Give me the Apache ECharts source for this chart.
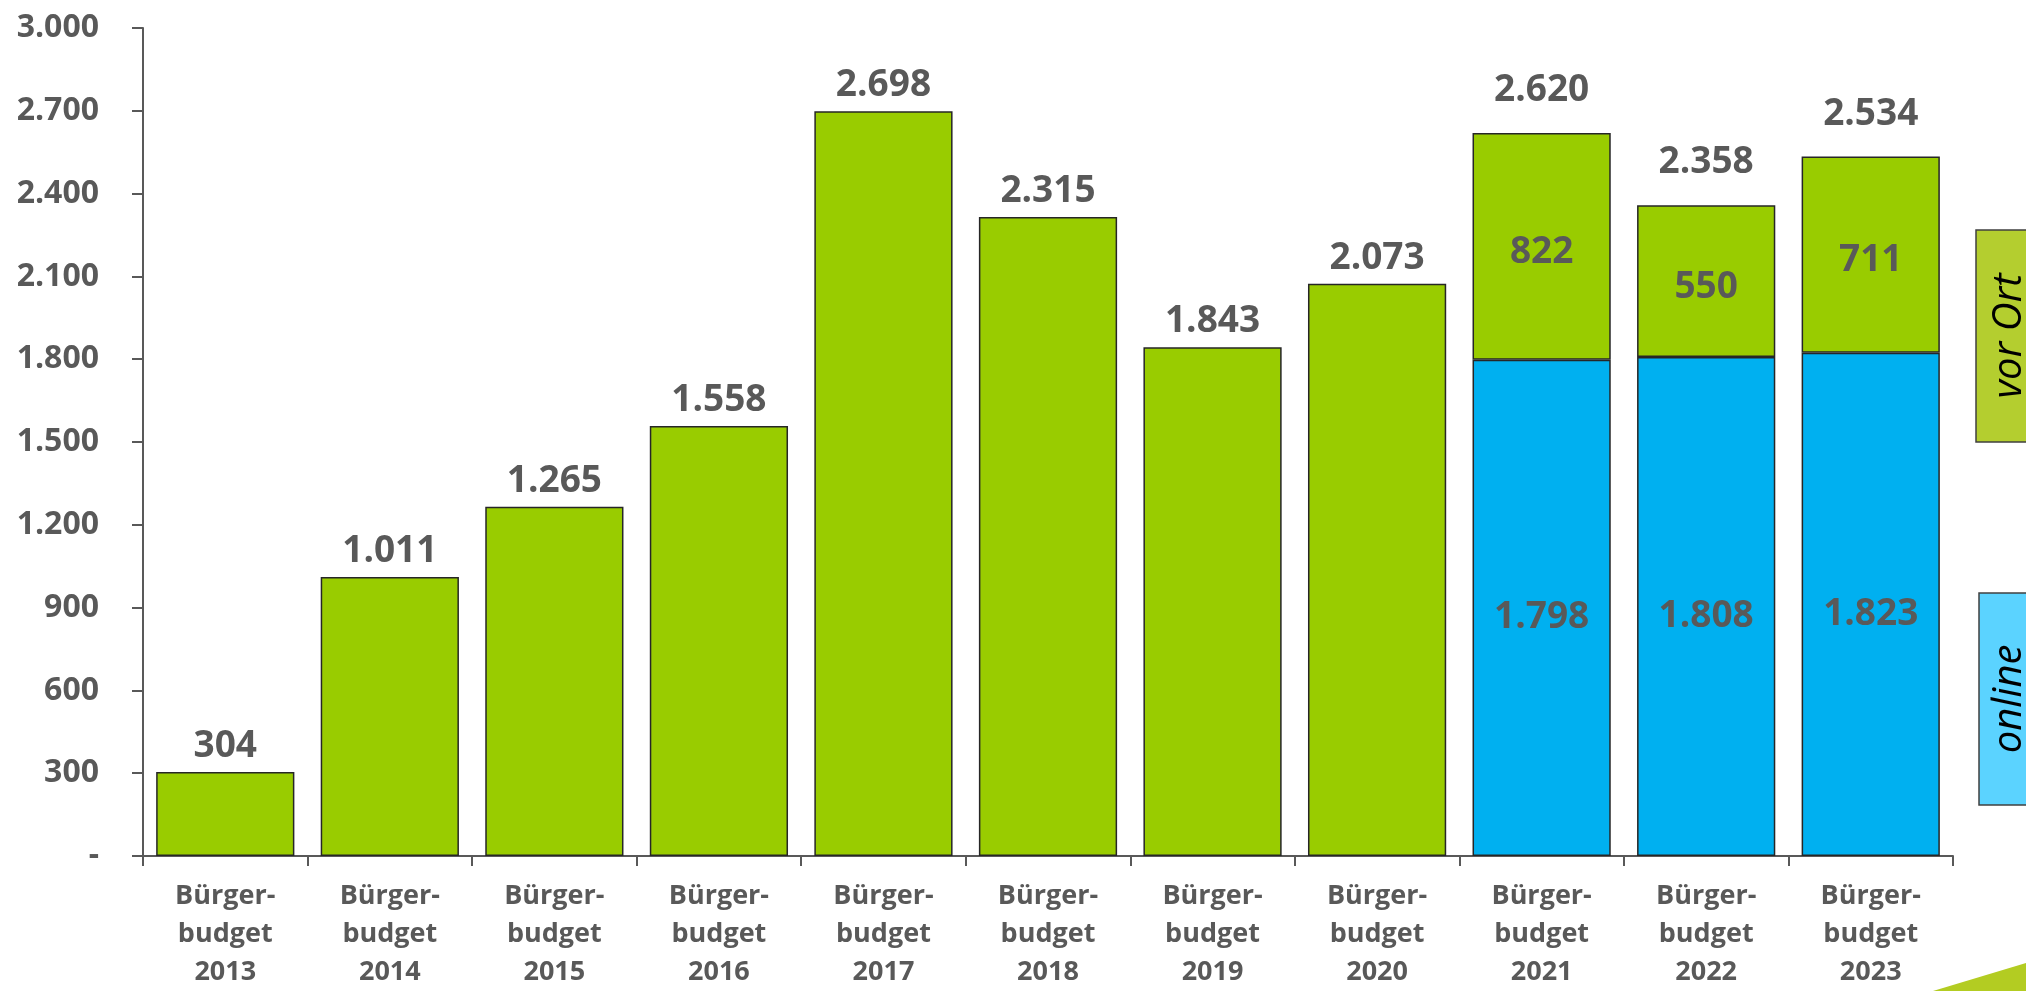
<!DOCTYPE html>
<html>
<head>
<meta charset="utf-8">
<script src="https://cdn.jsdelivr.net/npm/echarts@6/dist/echarts.min.js"></script>
<style>
html,body{margin:0;padding:0;background:#fff;}
#c{width:2026px;height:991px;}
</style>
</head>
<body>
<div id="c"></div>
<script>
const years = ['2013','2014','2015','2016','2017','2018','2019','2020','2021','2022','2023'];
const vorOrt = [304, 1011, 1265, 1558, 2698, 2315, 1843, 2073, 822, 550, 711];
const online = [null, null, null, null, null, null, null, null, 1798, 1808, 1823];
const totals = [304, 1011, 1265, 1558, 2698, 2315, 1843, 2073, 2620, 2358, 2534];
const yTicks = {min: 0, max: 3000, interval: 300};

const FONT = '"Open Sans", "DejaVu Sans", sans-serif';
const GREY = '#595959';
function fmt(v){ return String(v).replace(/\B(?=(\d{3})+(?!\d))/g, '.'); }

const chart = echarts.init(document.getElementById('c'), null, {renderer:'canvas'});
const option = {
  backgroundColor: '#ffffff',
  animation: false,
  grid: {left: 143, right: 73, top: 28, bottom: 132, containLabel: false},
  xAxis: {
    type: 'category',
    data: years.map(y => 'Bürger-\nbudget\n' + y),
    axisLine: {lineStyle: {color: GREY, width: 2}},
    axisTick: {show: true, length: 10, lineStyle: {color: GREY, width: 2}},
    axisLabel: {interval: 0, color: GREY, fontFamily: FONT, fontWeight: 'bold', fontSize: 27, lineHeight: 38, margin: 21}
  },
  yAxis: {
    type: 'value',
    min: yTicks.min, max: yTicks.max, interval: yTicks.interval,
    axisLine: {show: true, lineStyle: {color: GREY, width: 2}},
    axisTick: {show: true, length: 11, lineStyle: {color: GREY, width: 2}},
    splitLine: {show: false},
    axisLabel: {color: GREY, fontFamily: FONT, fontWeight: 'bold', fontSize: 32, margin: 44,
      formatter: v => v === 0 ? '-' : fmt(v)}
  },
  series: [
    {
      name: 'online', type: 'bar', stack: 'a', barCategoryGap: '16%', barGap: '-100%',
      data: online,
      itemStyle: {color: '#00B0F0', borderColor: '#262626', borderWidth: 1.5},
      label: {show: true, position: 'inside', offset: [0, 10], color: GREY, fontFamily: FONT, fontWeight: 'bold', fontSize: 37,
        formatter: p => p.value == null ? '' : fmt(p.value)}
    },
    {
      name: 'vor Ort', type: 'bar', stack: 'a', barCategoryGap: '16%', barGap: '-100%',
      data: vorOrt,
      itemStyle: {color: '#99CC00', borderColor: '#262626', borderWidth: 1.5},
      label: {show: true, position: 'inside', offset: [0, 6], color: GREY, fontFamily: FONT, fontWeight: 'bold', fontSize: 37,
        formatter: p => online[p.dataIndex] == null ? '' : fmt(p.value)}
    },
    {
      name: 'Gesamt', type: 'bar', barCategoryGap: '16%', barGap: '-100%', z: 1,
      data: totals.map((v, i) => ({value: v, label: {distance: online[i] == null ? 7 : 24}})),
      itemStyle: {color: 'rgba(0,0,0,0)'},
      silent: true,
      label: {show: true, position: 'top', color: GREY, fontFamily: FONT, fontWeight: 'bold', fontSize: 37,
        formatter: p => fmt(p.value)}
    }
  ],
  graphic: [
    {type: 'rect', shape: {x: 1976, y: 230, width: 80, height: 212},
     style: {fill: '#B4CE2F', stroke: '#404040', lineWidth: 1.5}},
    {type: 'text', x: 2010, y: 336, rotation: Math.PI / 2,
     style: {text: 'vor Ort', font: 'italic 40px ' + FONT, fill: '#000', align: 'center', verticalAlign: 'middle'}},
    {type: 'rect', shape: {x: 1979, y: 593, width: 80, height: 212},
     style: {fill: '#5BD3FF', stroke: '#404040', lineWidth: 1.5}},
    {type: 'text', x: 2010, y: 699, rotation: Math.PI / 2,
     style: {text: 'online', font: 'italic 40px ' + FONT, fill: '#000', align: 'center', verticalAlign: 'middle'}},
    {type: 'polygon', shape: {points: [[1933, 991], [2026, 963], [2026, 991]]},
     style: {fill: '#B3CC22'}}
  ]
};
chart.setOption(option);
</script>
</body>
</html>
